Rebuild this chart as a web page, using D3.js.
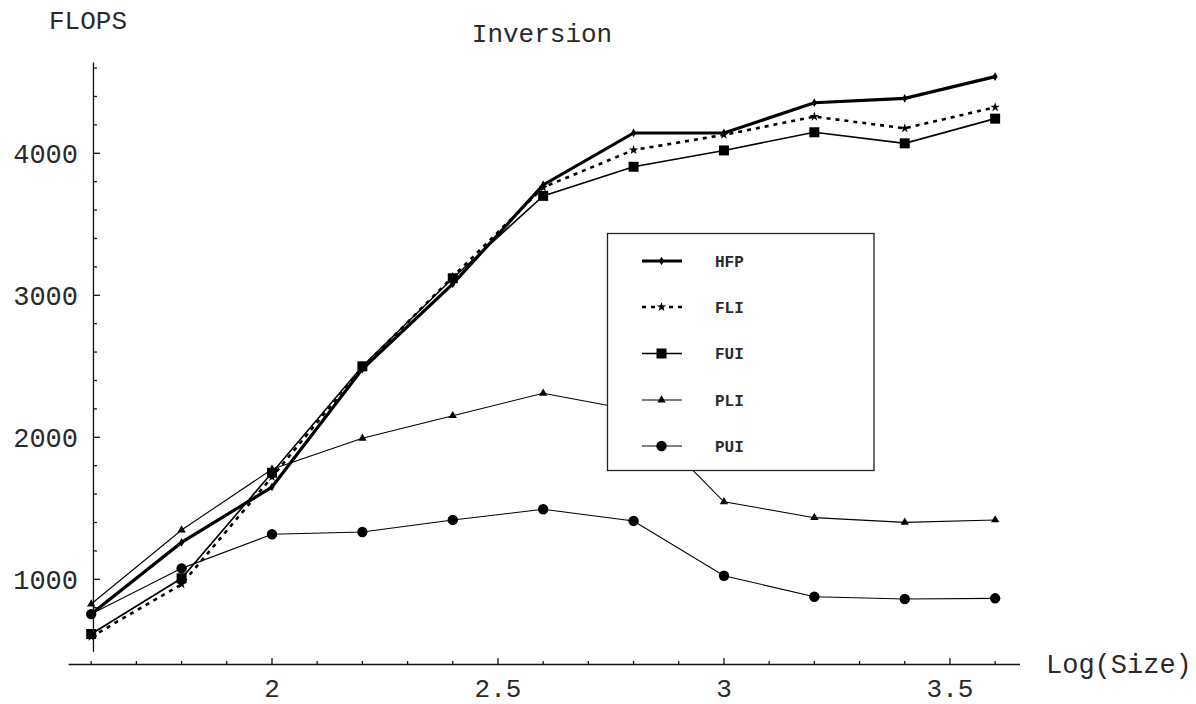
<!DOCTYPE html>
<html>
<head>
<meta charset="utf-8">
<script src="https://cdn.jsdelivr.net/npm/d3@7"></script>
<style>
body { margin: 0; background: #fff; }
text { font-family: "Liberation Mono", "Courier New", monospace; fill: #2a2a2a; }
</style>
</head>
<body>
<svg width="1196" height="704"></svg>
<script>
// x values (log of matrix size)
var logSize = [1.6, 1.8, 2.0, 2.2, 2.4, 2.6, 2.8, 3.0, 3.2, 3.4, 3.6];

// FLOPS per variant
var hfp = [755, 1260, 1650, 2480, 3080, 3777, 4143, 4143, 4356, 4387, 4540];
var fli = [595, 965, 1720, 2490, 3130, 3760, 4023, 4130, 4258, 4176, 4324];
var fui = [615, 1007, 1750, 2500, 3120, 3700, 3905, 4020, 4148, 4070, 4244];
var pli = [826, 1347, 1775, 1993, 2152, 2310, 2190, 1546, 1434, 1401, 1418];
var pui = [755, 1077, 1317, 1333, 1418, 1493, 1411, 1025, 877, 861, 866];

var xTickLabels = [2, 2.5, 3, 3.5];
var yTickLabels = [1000, 2000, 3000, 4000];

var seriesNames = ["HFP", "FLI", "FUI", "PLI", "PUI"];

var svg = d3.select("svg");

var x = d3.scaleLinear().domain([1.55, 3.655]).range([68.6, 1020]);
var y = d3.scaleLinear().domain([400, 4640]).range([664.5, 62.4]);

var series = [
  {name: "HFP", values: hfp, width: 3.2, dash: null, symbol: d3.symbolDiamond, size: 22},
  {name: "FLI", values: fli, width: 2.6, dash: "4,5", symbol: d3.symbolStar, size: 28},
  {name: "FUI", values: fui, width: 1.6, dash: null, symbol: d3.symbolSquare, size: 100},
  {name: "PLI", values: pli, width: 1.1, dash: null, symbol: d3.symbolTriangle, size: 30},
  {name: "PUI", values: pui, width: 1.1, dash: null, symbol: d3.symbolCircle, size: 85}
];

// axes
var axis = svg.append("g").attr("stroke", "#111").attr("stroke-width", 1.3);
var xAxisY = y(400), yAxisX = x(1.605);

axis.append("line")
  .attr("x1", x(1.55)).attr("x2", x(3.655))
  .attr("y1", xAxisY).attr("y2", xAxisY);
axis.append("line")
  .attr("x1", yAxisX).attr("x2", yAxisX)
  .attr("y1", y(4640)).attr("y2", y(490));

var xMinor = d3.range(16, 37).map(function(d) { return d / 10; });
axis.selectAll(".xt").data(xMinor).enter().append("line")
  .attr("x1", function(d) { return x(d); })
  .attr("x2", function(d) { return x(d); })
  .attr("y1", xAxisY)
  .attr("y2", function(d) { return xAxisY - (Math.abs(d * 2 - Math.round(d * 2)) < 1e-6 ? 6.5 : 3.5); });

var yMinor = d3.range(600, 4601, 200);
axis.selectAll(".yt").data(yMinor).enter().append("line")
  .attr("y1", function(d) { return y(d); })
  .attr("y2", function(d) { return y(d); })
  .attr("x1", yAxisX)
  .attr("x2", function(d) { return yAxisX + (d % 1000 === 0 ? 6.5 : 3.5); });

svg.selectAll(".xl").data(xTickLabels).enter().append("text")
  .attr("x", function(d) { return x(d); })
  .attr("y", 697)
  .attr("text-anchor", "middle")
  .style("font-size", "26px")
  .text(function(d) { return d; });

svg.selectAll(".yl").data(yTickLabels).enter().append("text")
  .attr("x", 78)
  .attr("y", function(d) { return y(d); })
  .attr("dy", "0.35em")
  .attr("text-anchor", "end")
  .style("font-size", "27px")
  .text(function(d) { return d; });

svg.append("text").attr("x", 49).attr("y", 29).style("font-size", "26px").text("FLOPS");
svg.append("text").attr("x", 542).attr("y", 42).attr("text-anchor", "middle").style("font-size", "26px").text("Inversion");
svg.append("text").attr("x", 1046).attr("y", 673).style("font-size", "27px").text("Log(Size)");

// lines
var line = d3.line()
  .x(function(d, i) { return x(logSize[i]); })
  .y(function(d) { return y(d); });

series.forEach(function(s) {
  svg.append("path")
    .attr("d", line(s.values))
    .attr("fill", "none")
    .attr("stroke", "#000")
    .attr("stroke-width", s.width)
    .attr("stroke-dasharray", s.dash);
  svg.selectAll(null).data(s.values).enter().append("path")
    .attr("d", d3.symbol().type(s.symbol).size(s.size))
    .attr("transform", function(d, i) { return "translate(" + x(logSize[i]) + "," + y(d) + ")"; })
    .attr("fill", "#000");
});

// legend
var legend = svg.append("g");
legend.append("rect")
  .attr("x", 607.5).attr("y", 233.5).attr("width", 266.5).attr("height", 237)
  .attr("fill", "#fff").attr("stroke", "#222").attr("stroke-width", 1.3);

var rowY = [261, 307, 353.5, 400, 446];
series.forEach(function(s, i) {
  var g = legend.append("g").attr("transform", "translate(0," + rowY[i] + ")");
  g.append("line")
    .attr("x1", 642).attr("x2", 682).attr("y1", 0).attr("y2", 0)
    .attr("stroke", "#000").attr("stroke-width", s.width)
    .attr("stroke-dasharray", s.dash);
  g.append("path")
    .attr("d", d3.symbol().type(s.symbol).size(s.size))
    .attr("transform", "translate(661.5,0)")
    .attr("fill", "#000");
  g.append("text")
    .attr("x", 715).attr("y", 0).attr("dy", "0.35em")
    .style("font-size", "16px")
    .style("font-weight", "bold")
    .text(seriesNames[i]);
});
</script>
</body>
</html>
